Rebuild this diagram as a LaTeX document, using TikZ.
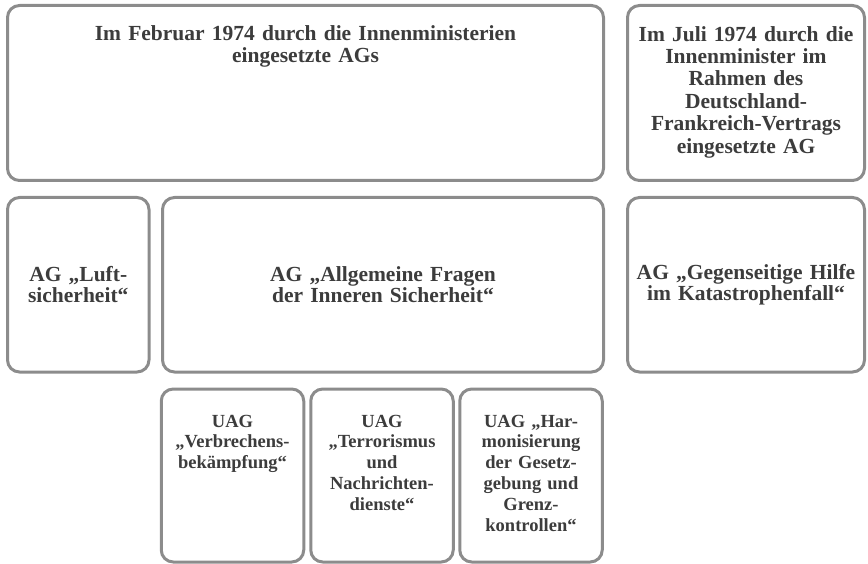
\documentclass[tikz,border=0pt]{standalone}
\usepackage{fontspec}
\setmainfont{Liberation Serif}
\usepackage{xcolor}
\usetikzlibrary{positioning}

\definecolor{boxgray}{RGB}{140,140,140}
\definecolor{textgray}{RGB}{60,60,60}

\begin{document}
\begin{tikzpicture}[
  x=1pt, y=-1pt,
  agBox/.style={draw=boxgray, line width=3pt, rounded corners=12pt,
                fill=white, inner sep=0pt},
  bigText/.style={text=textgray, align=center, inner sep=0pt,
                  font=\fontsize{21.5}{22.4}\selectfont\bfseries},
  midText/.style={text=textgray, align=center,
                  font=\fontsize{21.5}{20.5}\selectfont\bfseries},
  uagText/.style={text=textgray, align=center, inner sep=0pt, text width=136pt,
                  font=\fontsize{18.5}{20.8}\selectfont\bfseries}
]
  \useasboundingbox (0,0) rectangle (868,564);

  % top row
  \node[agBox, minimum width=596pt, minimum height=175pt] (feb) at (305.5,93) {};
  \node[agBox, minimum width=237pt, minimum height=175pt] (jul) at (746,93) {};
  \node[bigText, text width=560pt, anchor=base] (febT) at ([yshift=-36.5pt]feb.north)
    {Im Februar 1974 durch die Innenministerien\\eingesetzte AGs};
  \node[bigText, text width=230pt, anchor=base] (julT) at ([yshift=-37.2pt]jul.north)
    {Im Juli 1974 durch die\\Innenminister im\\Rahmen des\\Deutschland-\\Frankreich-Vertrags\\eingesetzte AG};

  % middle row
  \node[agBox, midText, text width=135pt, minimum width=141.5pt, minimum height=174.5pt]
    (luft) at (78.25,284.75) {AG „Luft-\\sicherheit“};
  \node[agBox, midText, text width=420pt, minimum width=441pt, minimum height=174.5pt]
    (allg) at (383,284.75) {AG „Allgemeine Fragen\\der Inneren Sicherheit“};
  \node[agBox, midText, text width=230pt, minimum width=237pt, minimum height=174.5pt]
    (hilfe) at (746,284.75) {AG „Gegenseitige Hilfe\\im Katastrophenfall“};

  % sub-groups
  \foreach \n/\x/\txt in {
      uagA/232.5/{UAG\\„Verbrechens-\\bekämpfung“},
      uagB/382/{UAG\\„Terrorismus\\und\\Nachrichten-\\dienste“},
      uagC/531/{UAG „Har-\\monisierung\\der Gesetz-\\gebung und\\Grenz-\\kontrollen“}} {
    \node[agBox, minimum width=142.5pt, minimum height=173pt] (\n) at (\x,475.5) {};
    \node[uagText, anchor=base] (\n T) at ([yshift=-39.5pt]\n.north) {\txt};
  }
\end{tikzpicture}
\end{document}
